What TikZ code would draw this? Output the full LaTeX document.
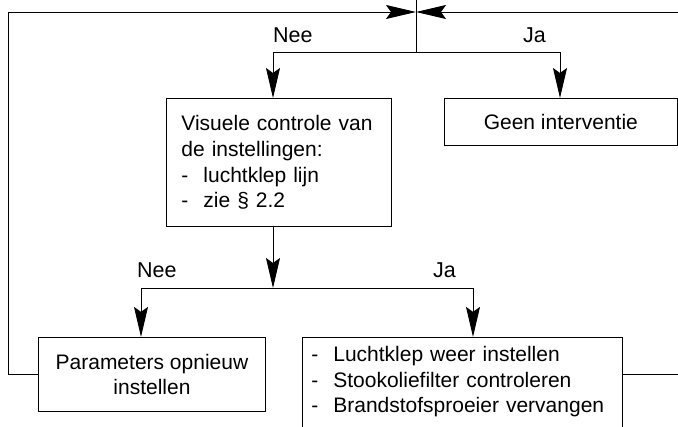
\documentclass[tikz,border=0pt]{standalone}
\usepackage{fontspec}
\setmainfont{Liberation Sans}
\usetikzlibrary{arrows.meta, positioning}
\tikzset{
  cbox/.style={
    rectangle, draw=black, line width=0.9pt,
    font=\fontsize{21}{25.7}\selectfont,
    inner xsep=15pt, inner ysep=6pt
  },
  lbox/.style={
    cbox, align=left
  },
  lbl/.style={font=\fontsize{21.5}{25.7}\selectfont, inner sep=0pt},
  arr/.style={-{Stealth[length=30pt, width=14pt, inset=5pt]}, line width=0.9pt},
  line/.style={line width=0.9pt},
}
\newcommand{\stap}{\makebox[22pt][l]{-}}

\begin{document}
\begin{tikzpicture}[x=1pt, y=-1pt]
    \useasboundingbox (0,0) rectangle (678,427);

    \node[lbox, anchor=north west, text width=195pt, minimum height=128pt] (visual) at (166,98)
      {Visuele controle van\\de instellingen:\\\stap luchtklep lijn\\\stap zie § 2.2};
    \node[cbox, right=52pt of visual.north east, anchor=north west,
          minimum width=233pt, minimum height=47pt] (geen) {Geen interventie};
    \node[cbox, below left=110pt and 128pt of visual.south west, anchor=north west,
          align=center, minimum width=227pt, minimum height=74pt] (param)
      {Parameters opnieuw\\instellen};
    \node[lbox, right=36pt of param.north east, anchor=north west,
          inner xsep=9pt, inner ysep=9pt, text width=302pt] (actions)
      {\stap Luchtklep weer instellen\\\stap Stookoliefilter controleren\\
       \stap Brandstofsproeier vervangen\\\mbox{}};

    % splitting points
    \coordinate (top)    at (416,-8);
    \coordinate (meet)   at (416,12);
    \coordinate (split1) at (416,52);
    \coordinate (nee1)   at (273,52);
    \coordinate (ja1)    at (560,52);
    \coordinate (split2) at (273,288);
    \coordinate (nee2)   at (141,288);
    \coordinate (ja2)    at (473,288);
    \coordinate (lt)     at (8,12);
    \coordinate (rt)     at (690,12);

    \draw[line] (top) -- (split1);
    \draw[arr] (split1) -- (nee1) -- (nee1 |- visual.north);
    \draw[arr] (split1) -- (ja1) -- (ja1 |- geen.north);
    \node[lbl, above right=9pt and 0pt of nee1] {Nee};
    \node[lbl, above left=9pt and 14pt of ja1] {Ja};

    \draw[arr] (nee1 |- visual.south) -- (split2);
    \draw[arr] (split2) -- (nee2) -- (nee2 |- param.north);
    \draw[arr] (split2) -- (ja2) -- (ja2 |- actions.north);
    \node[lbl, above right=10pt and -4pt of nee2] {Nee};
    \node[lbl, above left=10pt and 17pt of ja2] {Ja};

    % back to the top
    \draw[arr] (param.west) -| (lt) -- (meet);
    \draw[arr] (actions.east |- param.west) -| (rt) -- (meet);
\end{tikzpicture}
\end{document}
